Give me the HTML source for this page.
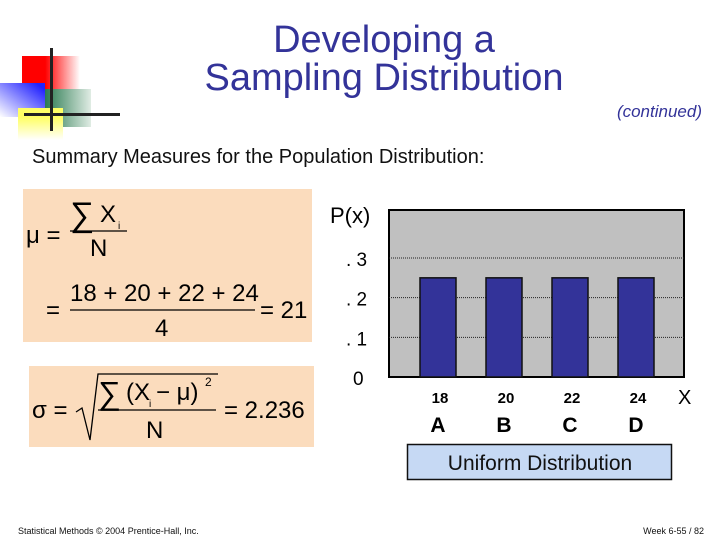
<!DOCTYPE html>
<html><head><meta charset="utf-8"><style>
body{margin:0;width:720px;height:540px;background:#fff;overflow:hidden;font-family:"Liberation Sans",sans-serif}
svg{display:block}
</style></head><body>
<svg width="720" height="540" xmlns="http://www.w3.org/2000/svg" font-family="Liberation Sans, sans-serif">
<defs>
<linearGradient id="gr" x1="0" x2="1"><stop offset="0.4" stop-color="#f00"/><stop offset="1" stop-color="#fff"/></linearGradient>
<linearGradient id="gb" x1="1" x2="0" y1="0" y2="1"><stop offset="0.1" stop-color="#22f"/><stop offset="1" stop-color="#fff"/></linearGradient>
<linearGradient id="gg" x1="0" x2="1"><stop offset="0" stop-color="#2a7a50"/><stop offset="1" stop-color="#e0ece4"/></linearGradient>
<linearGradient id="gy" x1="0" x2="0" y1="0" y2="1"><stop offset="0.3" stop-color="#ff6"/><stop offset="1" stop-color="#fff"/></linearGradient>
</defs>
<g>
<rect x="22" y="56" width="58" height="42" fill="url(#gr)"/>
<rect x="45" y="89" width="46" height="38" fill="url(#gg)"/>
<rect x="0" y="83" width="45" height="34" fill="url(#gb)"/>
<rect x="18" y="108" width="45" height="32" fill="url(#gy)"/>
<rect x="50" y="48" width="3" height="83" fill="#222"/>
<rect x="24" y="113" width="96" height="3" fill="#222"/>
</g>
<text x="384" y="52" text-anchor="middle" font-size="38" fill="#333399">Developing a</text>
<text x="384" y="90" text-anchor="middle" font-size="38" fill="#333399">Sampling Distribution</text>
<text x="702" y="117" text-anchor="end" font-size="17" font-style="italic" fill="#333399">(continued)</text>
<text x="32" y="163" font-size="20" fill="#111">Summary Measures for the Population Distribution:</text>

<g>
<rect x="23" y="189" width="289" height="153" fill="#fbdcbd"/>
<text x="26" y="243" font-size="24" fill="#000">μ =</text>
<text x="70" y="226" font-size="34" fill="#000">∑</text>
<text x="100" y="222" font-size="24" fill="#000">X</text>
<text x="118" y="229" font-size="10" fill="#000">i</text>
<line x1="70" y1="231" x2="127" y2="231" stroke="#000" stroke-width="1.2"/>
<text x="90" y="256" font-size="24" fill="#000">N</text>
<text x="46" y="318" font-size="24" fill="#000">=</text>
<text x="70" y="301" font-size="24" fill="#000">18 + 20 + 22 + 24</text>
<line x1="70" y1="310" x2="255" y2="310" stroke="#000" stroke-width="1.2"/>
<text x="155" y="336" font-size="24" fill="#000">4</text>
<text x="260" y="318" font-size="24" fill="#000">= 21</text>
</g>
<g>
<rect x="29" y="366" width="285" height="81" fill="#fbdcbd"/>
<text x="32" y="418" font-size="24" fill="#000">σ =</text>
<polyline points="76,412 82,408 90,440 98,374 218,374" fill="none" stroke="#000" stroke-width="1.3"/>
<text x="98" y="404" font-size="32" fill="#000">∑</text>
<text x="126" y="400" font-size="24" fill="#000">(X</text>
<text x="149" y="407" font-size="10" fill="#000">i</text>
<text x="156" y="400" font-size="24" fill="#000">− μ)</text>
<text x="205" y="386" font-size="12" fill="#000">2</text>
<line x1="98" y1="410" x2="216" y2="410" stroke="#000" stroke-width="1.2"/>
<text x="146" y="438" font-size="24" fill="#000">N</text>
<text x="224" y="418" font-size="24" fill="#000">= 2.236</text>
</g>

<g id="chart"></g>

<g>
<rect x="407.5" y="444.5" width="264" height="35" fill="#c6d9f4" stroke="#111" stroke-width="1.5"/>
<text x="540" y="470" text-anchor="middle" font-size="21" fill="#111">Uniform Distribution</text>
</g>
<text x="18" y="534" font-size="9" fill="#111">Statistical Methods © 2004 Prentice-Hall, Inc.</text>
<text x="704" y="534" text-anchor="end" font-size="9" fill="#111">Week 6-55 / 82</text>
</svg>
<script>
const categories = ["18","20","22","24"];
const letters = ["A","B","C","D"];
const probabilities = [0.25,0.25,0.25,0.25];
const yTicks = [0,0.1,0.2,0.3];
const yTickLabels = ["0",". 1",". 2",". 3"];
const NS="http://www.w3.org/2000/svg";
const g=document.getElementById('chart');
const px0=389,px1=684,py0=377,py1=210;
const y=v=>py0-v*(377-258)/0.3;
const x=i=>438+i*66;
function mk(t,a){const e=document.createElementNS(NS,t);for(const k in a)e.setAttribute(k,a[k]);g.appendChild(e);return e;}
const bg=mk('rect',{x:px0,y:py1,width:px1-px0,height:py0-py1,fill:'#c0c0c0',stroke:'#000','stroke-width':2});


yTicks.forEach((v,i)=>{
  if(v>0){const l=mk('line',{x1:px0,x2:px1,y1:y(v),y2:y(v),stroke:'#222','stroke-dasharray':'1,1'});
  
  }
  const t=mk('text',{x:v>0?346:353,y:y(v)+8,'font-size':19,fill:'#000'});
  t.textContent=yTickLabels[i];
  
  
});
const yl=mk('text',{x:330,y:223,'font-size':22,fill:'#000'});yl.textContent='P(x)';


probabilities.forEach((p,i)=>{
  const b=mk('rect',{x:x(i)-18,y:y(p),width:36,height:y(0)-y(p),fill:'#333399',stroke:'#111','stroke-width':1.5});
  
  
  const t=mk('text',{x:x(i)+2,y:403,'font-size':15,'font-weight':'bold','text-anchor':'middle',fill:'#000'});t.textContent=categories[i];
  
  
  const t2=mk('text',{x:x(i),y:432,'font-size':21,'font-weight':'bold','text-anchor':'middle',fill:'#000'});t2.textContent=letters[i];
  
  
});
const xl=mk('text',{x:678,y:404,'font-size':20,fill:'#000'});xl.textContent='X';


</script>
</body></html>
